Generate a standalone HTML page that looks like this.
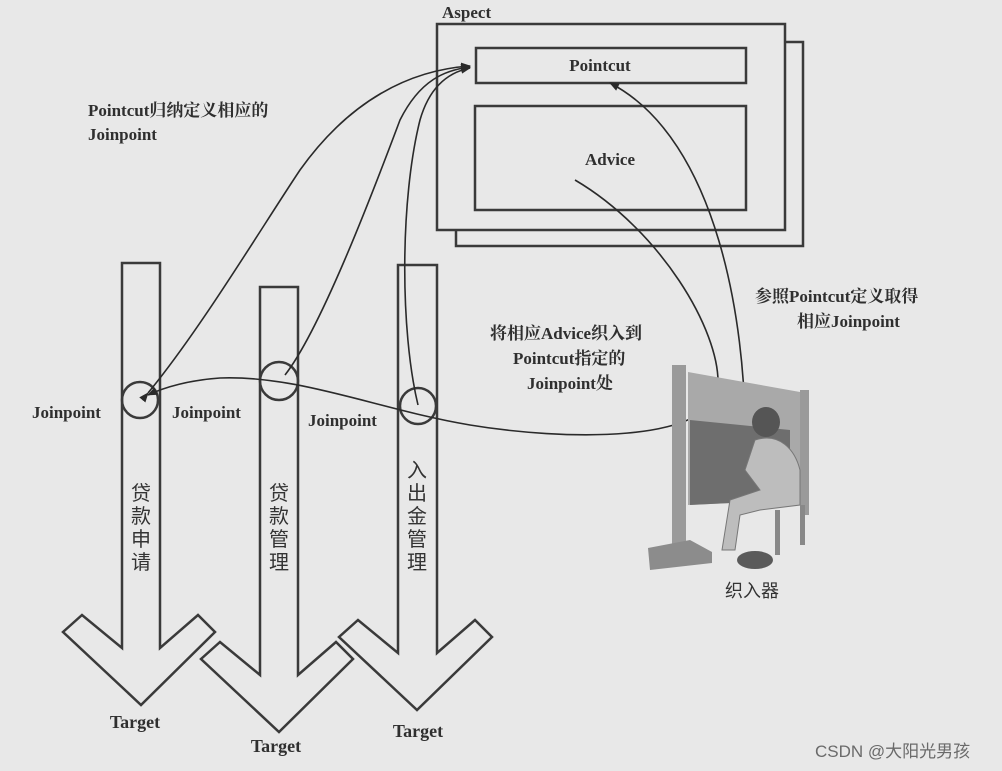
<!DOCTYPE html>
<html><head><meta charset="utf-8"><style>
html,body{margin:0;padding:0;background:#e8e8e8;}
svg{display:block;}
text{font-family:"Liberation Serif","Noto Serif CJK SC",serif;fill:#2f2f2f;font-weight:bold;}
.cj{font-family:"Liberation Serif","Noto Sans CJK SC",sans-serif;font-weight:normal;fill:#333;}
</style></head><body>
<svg width="1002" height="771" viewBox="0 0 1002 771" xmlns="http://www.w3.org/2000/svg">
<defs>
<marker id="ah" markerWidth="10" markerHeight="8" refX="9" refY="4" orient="auto" markerUnits="userSpaceOnUse">
<path d="M0,0 L10,4 L0,8 z" fill="#2a2a2a"/></marker>
</defs>
<rect width="1002" height="771" fill="#e8e8e8"/>
<g fill="none" stroke="#3a3a3a" stroke-width="2.5">
<polyline points="785,42 803,42 803,246 456,246 456,230"/>
<rect x="437" y="24" width="348" height="206" fill="#e8e8e8"/>
<rect x="476" y="48" width="270" height="35"/>
<rect x="475" y="106" width="271" height="104"/>
<polygon fill="#e8e8e8" points="260,287 298,287 298,675 336,642 353,659 279,732 201,659 220,642 260,675"/>
<polygon fill="#e8e8e8" points="122,263 160,263 160,648 198,615 215,632 141,705 63,632 82,615 122,648"/>
<polygon fill="#e8e8e8" points="398,265 437,265 437,653 475,620 492,637 417,710 339,637 358,620 398,653"/>
<circle cx="140" cy="400" r="18"/>
<circle cx="279" cy="381" r="19"/>
<circle cx="418" cy="406" r="18"/>
</g>
<g fill="none" stroke="#2a2a2a" stroke-width="1.6">
<path d="M575,180 C660,230 720,330 718,385 C715,445 560,440 470,425 C380,410 300,375 220,378 C190,380 165,387 148,395" marker-end="url(#ah)"/>
<path d="M745,430 C745,330 720,140 610,83" marker-end="url(#ah)"/>
<path d="M148,393 C200,330 260,230 300,170 C350,100 410,70 470,66" marker-end="url(#ah)" marker-start="url(#ah)"/>
<path d="M285,375 C320,330 370,200 400,120 C420,80 445,70 470,67" marker-end="url(#ah)"/>
<path d="M418,405 C400,330 400,200 420,120 C430,85 450,72 470,68" marker-end="url(#ah)"/>
</g>
<g>
<polygon points="688,372 800,392 800,500 688,505" fill="#a9a9a9"/>
<polygon points="690,420 790,430 790,500 690,505" fill="#6e6e6e"/>
<rect x="672" y="365" width="14" height="185" fill="#9a9a9a"/>
<rect x="800" y="390" width="9" height="125" fill="#9a9a9a"/>
<polygon points="648,548 690,540 712,552 712,563 650,570" fill="#8c8c8c"/>
<ellipse cx="766" cy="422" rx="14" ry="15" fill="#555"/>
<path d="M755,440 C780,432 795,450 800,470 L800,505 L760,510 L740,515 L735,550 L722,550 L730,500 L760,490 L745,470 Z" fill="#bdbdbd" stroke="#777"/>
<ellipse cx="755" cy="560" rx="18" ry="9" fill="#5a5a5a"/>
<rect x="775" y="510" width="5" height="45" fill="#888"/>
<rect x="800" y="505" width="5" height="40" fill="#888"/>
</g>
<text x="442" y="18" font-size="17" font-weight="normal">Aspect</text>
<text x="600" y="71" font-size="17" text-anchor="middle">Pointcut</text>
<text x="610" y="165" font-size="17" text-anchor="middle">Advice</text>
<text x="88" y="116" font-size="17">Pointcut归纳定义相应的</text>
<text x="88" y="140" font-size="17">Joinpoint</text>
<text x="755" y="302" font-size="17">参照Pointcut定义取得</text>
<text x="797" y="327" font-size="17">相应Joinpoint</text>
<text x="490" y="339" font-size="17">将相应Advice织入到</text>
<text x="513" y="364" font-size="17">Pointcut指定的</text>
<text x="527" y="389" font-size="17">Joinpoint处</text>
<text x="32" y="418" font-size="17">Joinpoint</text>
<text x="172" y="418" font-size="17">Joinpoint</text>
<text x="308" y="426" font-size="17">Joinpoint</text>
<text x="135" y="728" font-size="18" text-anchor="middle">Target</text>
<text x="276" y="752" font-size="18" text-anchor="middle">Target</text>
<text x="418" y="737" font-size="18" text-anchor="middle">Target</text>
<text x="752" y="597" font-size="18" text-anchor="middle" class="cj">织入器</text>
<g class="cj" font-size="20" text-anchor="middle">
<text class="cj" x="141" y="500">贷</text><text class="cj" x="141" y="523">款</text><text class="cj" x="141" y="546">申</text><text class="cj" x="141" y="569">请</text>
<text class="cj" x="279" y="500">贷</text><text class="cj" x="279" y="523">款</text><text class="cj" x="279" y="546">管</text><text class="cj" x="279" y="569">理</text>
<text class="cj" x="417" y="477">入</text><text class="cj" x="417" y="500">出</text><text class="cj" x="417" y="523">金</text><text class="cj" x="417" y="546">管</text><text class="cj" x="417" y="569">理</text>
</g>
<text x="815" y="757" font-size="17" style="font-family:'Liberation Sans','Noto Sans CJK SC',sans-serif;font-weight:normal;fill:#6a6a6a">CSDN @大阳光男孩</text>
</svg>
</body></html>
